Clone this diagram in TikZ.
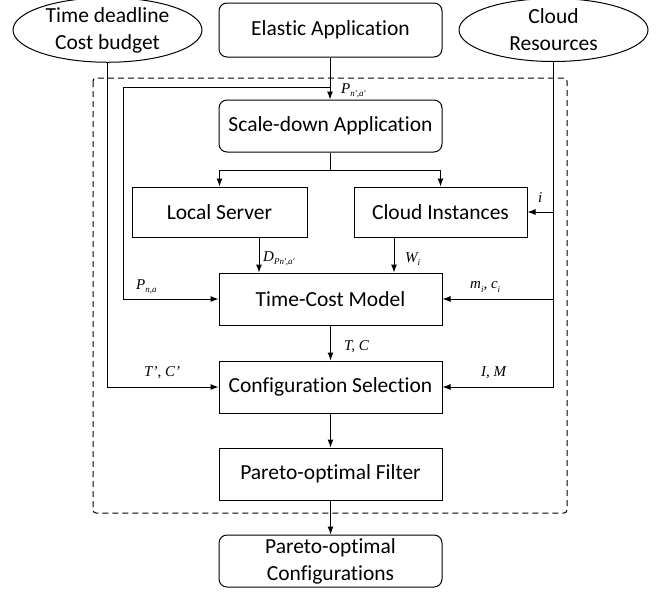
\documentclass[tikz,border=0pt]{standalone}
\usepackage{fontspec}
\setmainfont{Carlito}[Ligatures={NoCommon}]
\newfontfamily\labfont{Liberation Serif}
\usetikzlibrary{shapes.geometric,arrows.meta}
\newcommand{\lb}[1]{{\labfont\itshape\fontsize{15}{15}\selectfont #1}}
\newcommand{\sbs}[1]{\raisebox{-0.45ex}{\fontsize{9}{9}\selectfont #1}}
\begin{document}
\begin{tikzpicture}[x=1pt,y=-1pt,
  every node/.style={font=\fontsize{21.5}{27}\selectfont},
  box/.style={draw,line width=1pt,inner sep=0pt,align=center},
  rbox/.style={box,rounded corners=8pt},
  ell/.style={draw,ellipse,line width=1pt,inner sep=0pt,minimum width=189pt,minimum height=63pt,align=center},
  conn/.style={line width=1pt,-{Latex[length=8pt,width=6pt]}},
  wire/.style={line width=1pt},
  lab/.style={inner sep=0pt,anchor=west}]
\useasboundingbox (0,0) rectangle (660,592);
% dashed frame
\draw[line width=1pt,rounded corners=3pt,dash pattern=on 6pt off 4pt] (93,78) rectangle (567,513);
% top nodes
\node[ell] (td) at (107.5,30) {Time deadline\\Cost budget};
\node[rbox,minimum width=223pt,minimum height=54pt] (ea) at (330.5,30) {Elastic Application};
\node[ell] (cr) at (553.5,30) {Cloud\\Resources};
% main nodes
\node[rbox,minimum width=223pt,minimum height=52pt] (sd) at (330.5,126) {Scale-down Application};
\node[box,minimum width=175pt,minimum height=50pt] (ls) at (219.5,212) {Local Server};
\node[box,minimum width=173pt,minimum height=50pt] (ci) at (440.5,212) {Cloud Instances};
\node[box,minimum width=223pt,minimum height=52pt] (tc) at (330.5,299) {Time-Cost Model};
\node[box,minimum width=223pt,minimum height=52pt] (cs) at (330.5,387) {Configuration Selection};
\node[box,minimum width=223pt,minimum height=52pt] (pf) at (330.5,474) {Pareto-optimal Filter};
\node[rbox,minimum width=223pt,minimum height=52pt] (pc) at (330.5,561) {Pareto-optimal\\Configurations};
% helper coordinates
\coordinate (br) at (330,87);
\coordinate (lft) at (123,87);
\coordinate (split) at (330,170);
% connectors
\draw[conn] (ea.south -| br) -- (sd.north -| br);
\draw[conn] (br) -- (lft) -- (lft |- tc.west) -- (tc.west);
\draw[wire] (sd.south -| split) -- (split);
\draw[conn] (split) -| (ls.north);
\draw[conn] (split) -| (ci.north);
\draw[conn] (ls.south -| 259,0) -- (tc.north -| 259,0);
\draw[conn] (ci.south -| 394,0) -- (tc.north -| 394,0);
\draw[conn] (td.south) |- (cs.west);
\draw[conn] (cr.south) |- (cs.east);
\draw[conn] (cr.south |- ci.east) -- (ci.east);
\draw[conn] (cr.south |- tc.east) -- (tc.east);
\draw[conn] (tc.south) -- (cs.north);
\draw[conn] (cs.south) -- (pf.north);
\draw[conn] (pf.south) -- (pc.north);
% labels
\node[lab] (l1) at (341,91) {\lb{P\sbs{n',a'}}};
\node[lab] (l2) at (263,259) {\lb{D\sbs{Pn',a'}}};
\node[lab] (l3) at (405,259) {\lb{W\sbs{i}}};
\node[lab] (l4) at (136,287) {\lb{P\sbs{n,a}}};
\node[lab] (l5) at (470,287) {\lb{m\sbs{i}, c\sbs{i}}};
\node[lab] (l6) at (538,198) {\lb{i}};
\node[lab] (l7) at (344,347) {\lb{T, C}};
\node[lab] (l8) at (144,373) {\lb{T’, C’}};
\node[lab] (l9) at (481,373) {\lb{I, M}};
\end{tikzpicture}
\end{document}
